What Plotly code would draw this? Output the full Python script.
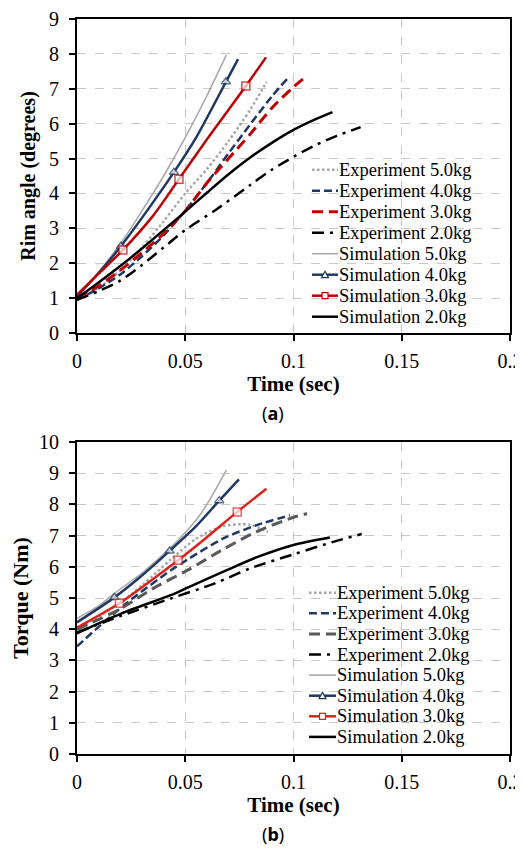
import plotly.graph_objects as go

# ---------------- (a) Rim angle (degrees) ----------------
t_exp5_a = [0, 0.01, 0.02, 0.03, 0.04, 0.05, 0.06, 0.07, 0.08, 0.0876]
y_exp5_a = [1.0, 1.3, 1.8, 2.45, 3.2, 4.0, 4.7, 5.5, 6.4, 7.2]
t_exp4_a = [0, 0.01, 0.02, 0.03, 0.04, 0.05, 0.06, 0.07, 0.08, 0.09, 0.0973]
y_exp4_a = [0.95, 1.28, 1.68, 2.2, 2.8, 3.5, 4.3, 5.15, 5.98, 6.78, 7.3]
t_exp3_a = [0, 0.01, 0.02, 0.03, 0.04, 0.05, 0.06, 0.07, 0.08, 0.09, 0.1, 0.106]
y_exp3_a = [1.0, 1.35, 1.8, 2.3, 2.85, 3.5, 4.3, 5.0, 5.7, 6.45, 7.05, 7.36]
t_exp2_a = [0, 0.01, 0.02, 0.03, 0.04, 0.05, 0.065, 0.08, 0.09, 0.1, 0.11, 0.12, 0.131]
y_exp2_a = [0.95, 1.2, 1.5, 1.95, 2.45, 2.95, 3.57, 4.24, 4.68, 5.05, 5.38, 5.65, 5.9]
t_sim5_a = [0, 0.01, 0.02, 0.03, 0.04, 0.05, 0.06, 0.069]
y_sim5_a = [1.05, 1.75, 2.55, 3.5, 4.5, 5.6, 6.8, 7.97]
t_sim4_a = [0, 0.01, 0.0203, 0.03, 0.0448, 0.055, 0.0688, 0.0744]
y_sim4_a = [1.05, 1.72, 2.49, 3.3, 4.61, 5.6, 7.2, 7.85]
m_sim4_a = [2, 4, 6]
t_sim3_a = [0, 0.01, 0.0212, 0.035, 0.0471, 0.06, 0.07, 0.078, 0.0873]
y_sim3_a = [1.1, 1.7, 2.38, 3.35, 4.41, 5.55, 6.4, 7.08, 7.9]
m_sim3_a = [2, 4, 7]
t_sim2_a = [0, 0.01, 0.02, 0.03, 0.04, 0.05, 0.06, 0.07, 0.08, 0.09, 0.1, 0.11, 0.118]
y_sim2_a = [1.0, 1.45, 1.92, 2.42, 2.95, 3.48, 4.02, 4.55, 5.03, 5.45, 5.82, 6.12, 6.33]

# ---------------- (b) Torque (Nm) ----------------
t_exp5_b = [0, 0.01, 0.02, 0.03, 0.0436, 0.055, 0.0674, 0.0797, 0.0882]
y_exp5_b = [4.0, 4.4, 4.85, 5.4, 6.25, 6.9, 7.3, 7.35, 7.12]
t_exp4_b = [0, 0.0127, 0.025, 0.0436, 0.0519, 0.0674, 0.0828, 0.0983]
y_exp4_b = [3.45, 4.24, 4.95, 5.9, 6.27, 6.9, 7.33, 7.65]
t_exp3_b = [0, 0.02, 0.035, 0.0513, 0.0668, 0.0828, 0.1014, 0.1063]
y_exp3_b = [4.0, 4.65, 5.3, 5.9, 6.53, 7.12, 7.62, 7.7]
t_exp2_b = [0, 0.02, 0.0436, 0.0637, 0.08, 0.1, 0.1184, 0.1315]
y_exp2_b = [3.9, 4.42, 4.99, 5.47, 5.95, 6.4, 6.8, 7.05]
t_sim5_b = [0, 0.01, 0.0173, 0.03, 0.0436, 0.055, 0.06, 0.069]
y_sim5_b = [4.35, 4.75, 5.15, 5.8, 6.64, 7.5, 8.0, 9.1]
t_sim4_b = [0, 0.0173, 0.03, 0.0428, 0.055, 0.0657, 0.0748]
y_sim4_b = [4.22, 5.02, 5.72, 6.51, 7.3, 8.12, 8.8]
m_sim4_b = [1, 3, 5]
t_sim3_b = [0, 0.0196, 0.033, 0.0467, 0.06, 0.074, 0.0875]
y_sim3_b = [4.05, 4.83, 5.5, 6.21, 6.95, 7.76, 8.5]
m_sim3_b = [1, 3, 5]
t_sim2_b = [0, 0.0204, 0.0436, 0.0519, 0.0668, 0.0828, 0.1, 0.1168]
y_sim2_b = [3.87, 4.5, 5.1, 5.36, 5.82, 6.3, 6.7, 6.94]

legend_labels = ["Experiment 5.0kg", "Experiment 4.0kg", "Experiment 3.0kg", "Experiment 2.0kg",
                 "Simulation 5.0kg", "Simulation 4.0kg", "Simulation 3.0kg", "Simulation 2.0kg"]

NAVY = "#1F3864"
RED_A = "#C00000"
RED_B = "#E0201B"
LGRAY = "#A6A6A6"
DGRAY = "#595959"
FONT = "Liberation Serif, Times New Roman, serif"

# style per series: (color, width, dash, marker symbol)
styles_a = [
    (LGRAY, 2.5, "2.5px,2.5px", None),
    (NAVY, 2.5, "8px,4px", None),
    (RED_A, 3, "11px,6px", None),
    ("black", 2.5, "12px,6px,3px,6px", None),
    (LGRAY, 1.5, "solid", None),
    (NAVY, 2.5, "solid", "triangle-up"),
    (RED_A, 2.5, "solid", "square"),
    ("black", 2.5, "solid", None),
]
styles_b = [
    (LGRAY, 2.5, "2.5px,2.5px", None),
    (NAVY, 2.5, "8px,4px", None),
    (DGRAY, 3, "11px,6px", None),
    ("black", 2.5, "12px,6px,3px,6px", None),
    (LGRAY, 1.5, "solid", None),
    (NAVY, 2.5, "solid", "triangle-up"),
    (RED_B, 2.5, "solid", "square"),
    ("black", 2.5, "solid", None),
]

series_a = [(t_exp5_a, y_exp5_a, []), (t_exp4_a, y_exp4_a, []), (t_exp3_a, y_exp3_a, []),
            (t_exp2_a, y_exp2_a, []), (t_sim5_a, y_sim5_a, []), (t_sim4_a, y_sim4_a, m_sim4_a),
            (t_sim3_a, y_sim3_a, m_sim3_a), (t_sim2_a, y_sim2_a, [])]
series_b = [(t_exp5_b, y_exp5_b, []), (t_exp4_b, y_exp4_b, []), (t_exp3_b, y_exp3_b, []),
            (t_exp2_b, y_exp2_b, []), (t_sim5_b, y_sim5_b, []), (t_sim4_b, y_sim4_b, m_sim4_b),
            (t_sim3_b, y_sim3_b, m_sim3_b), (t_sim2_b, y_sim2_b, [])]

fig = go.Figure()


def add_series(series, styles, xa, ya):
    for (t, y, midx), (color, w, dash, sym), name in zip(series, styles, legend_labels):
        kw = dict(x=t, y=y, name=name, xaxis=xa, yaxis=ya, showlegend=False,
                  line=dict(color=color, width=w, dash=dash, shape="spline", smoothing=0.8))
        if sym:
            kw["mode"] = "lines+markers"
            kw["marker"] = dict(symbol=sym,
                                size=[8 if i in midx else 0 for i in range(len(t))],
                                color="white",
                                line=dict(color=color,
                                          width=[1.5 if i in midx else 0 for i in range(len(t))]))
        else:
            kw["mode"] = "lines"
        fig.add_trace(go.Scatter(**kw))


add_series(series_a, styles_a, "x", "y")
add_series(series_b, styles_b, "x2", "y2")

# geometry: page has an 8px body margin, so the figure is shifted by (8, 8)
OFF = 8
W, H = 523 - OFF, 848 - OFF
L, R, T, B = 77 - OFF, 13, 19 - OFF, 94
PW, PH = W - L - R, H - T - B


def px(x):
    return (x - OFF - L) / PW


def py(y):
    return (H - B - (y - OFF)) / PH


shapes = []
annotations = []


def build_legend(styles, box, row_y, x0, x1, xt):
    shapes.append(dict(type="rect", xref="paper", yref="paper", layer="between",
                       x0=px(box[0]), x1=px(box[1]), y0=py(box[3]), y1=py(box[2]),
                       fillcolor="white", line=dict(width=0)))
    for (color, w, dash, sym), name, yc in zip(styles, legend_labels, row_y):
        shapes.append(dict(type="line", xref="paper", yref="paper",
                           x0=px(x0), x1=px(x1), y0=py(yc), y1=py(yc),
                           line=dict(color=color, width=w, dash=dash)))
        xc = (x0 + x1) / 2
        if sym == "triangle-up":
            path = "M{},{} L{},{} L{},{} Z".format(px(xc - 3.5), py(yc + 3), px(xc + 3.5), py(yc + 3),
                                                     px(xc), py(yc - 3.5))
            shapes.append(dict(type="path", xref="paper", yref="paper", path=path,
                               fillcolor="white", line=dict(color=color, width=1.2)))
        elif sym == "square":
            shapes.append(dict(type="rect", xref="paper", yref="paper",
                               x0=px(xc - 3), x1=px(xc + 3), y0=py(yc + 3), y1=py(yc - 3),
                               fillcolor="white", line=dict(color=color, width=1.2)))
        annotations.append(dict(xref="paper", yref="paper", x=px(xt), y=py(yc),
                                xanchor="left", yanchor="middle", showarrow=False,
                                borderpad=0,
                                text=name, font=dict(family=FONT, size=18.5, color="black")))


build_legend(styles_a, (303, 506, 157, 328), [169.7 + 21 * i for i in range(8)], 312, 338, 338)
build_legend(styles_b, (300, 506, 580, 748), [592.7 + 20.6 * i for i in range(8)], 309, 336, 336)

annotations.append(dict(xref="paper", yref="paper", x=px(273), y=py(413), xanchor="center",
                        yanchor="middle", showarrow=False, text="(<b>a</b>)",
                        font=dict(family="Noto Sans", size=18, color="black")))
annotations.append(dict(xref="paper", yref="paper", x=px(273), y=py(834), xanchor="center",
                        yanchor="middle", showarrow=False, text="(<b>b</b>)",
                        font=dict(family="Noto Sans", size=18, color="black")))

axis_common = dict(showgrid=True, gridcolor="#C8C8C8", griddash="dash", gridwidth=1,
                   showline=True, linecolor="black", linewidth=2, mirror=True,
                   ticks="outside", ticklen=6, tickwidth=1.5, tickcolor="black",
                   zeroline=False, automargin=False,
                   tickfont=dict(family=FONT, size=20, color="black"))

fig.update_layout(
    width=W, height=H,
    margin=dict(l=L, r=R, t=T, b=B, autoexpand=False),
    paper_bgcolor="white", plot_bgcolor="white",
    font=dict(family=FONT, color="black"),
    showlegend=False,
    xaxis=dict(domain=[0, 1], anchor="y", range=[0, 0.2], dtick=0.05, tick0=0,
               title=dict(text="<b>Time (sec)</b>", font=dict(family=FONT, size=21), standoff=2),
               ticklabelstandoff=3, **axis_common),
    yaxis=dict(domain=[py(333), 1], anchor="x", range=[0, 9], dtick=1,
               title=dict(text="<b>Rim angle (degrees)</b>", font=dict(family=FONT, size=20), standoff=8),
               ticklabelstandoff=6, **axis_common),
    xaxis2=dict(domain=[0, 1], anchor="y2", range=[0, 0.2], dtick=0.05, tick0=0,
                title=dict(text="<b>Time (sec)</b>", font=dict(family=FONT, size=21), standoff=2),
                ticklabelstandoff=3, **axis_common),
    yaxis2=dict(domain=[0, py(442)], anchor="x2", range=[0, 10], dtick=1,
                title=dict(text="<b>Torque (Nm)</b>", font=dict(family=FONT, size=22), standoff=4),
                ticklabelstandoff=6, **axis_common),
    shapes=shapes,
    annotations=annotations,
)

fig.write_html("out.html")
